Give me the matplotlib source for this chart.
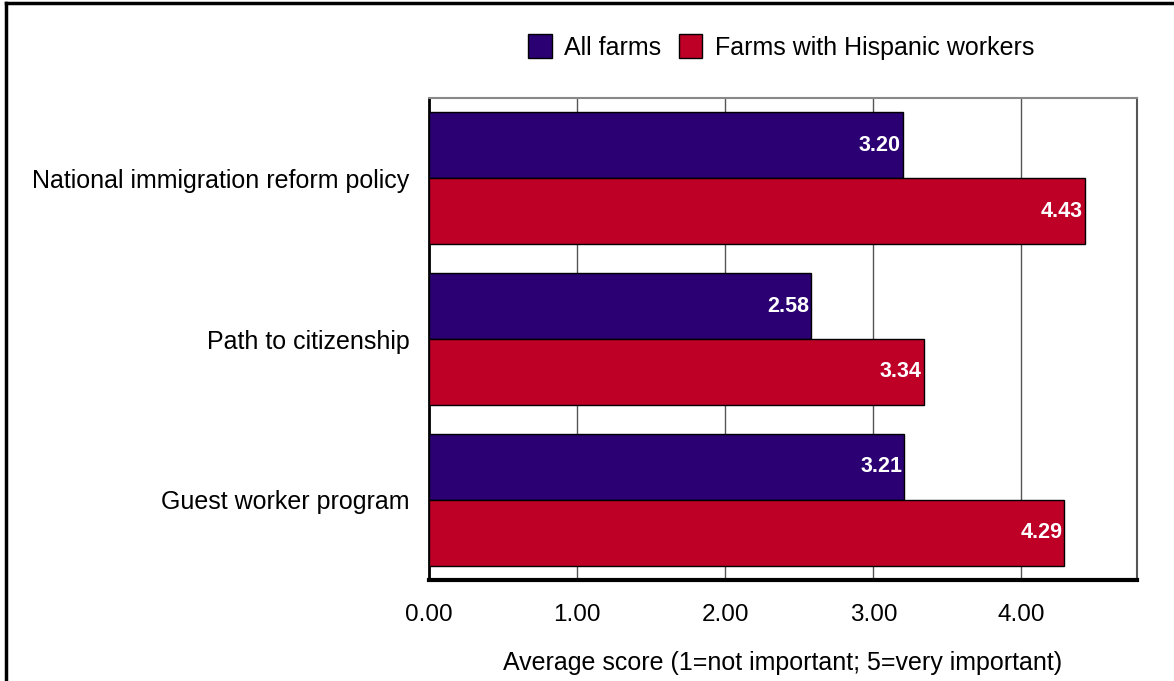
import matplotlib
matplotlib.use("Agg")
import matplotlib.pyplot as plt
from matplotlib.lines import Line2D
import numpy as np

categories = ["National immigration reform policy", "Path to citizenship", "Guest worker program"]
all_farms = [3.20, 2.58, 3.21]
hispanic_farms = [4.43, 3.34, 4.29]
series_names = ["All farms", "Farms with Hispanic workers"]
xticks = [0, 1, 2, 3, 4]
xlabel = "Average score (1=not important; 5=very important)"

plt.rcParams['font.family'] = ['Liberation Sans', 'DejaVu Sans']

fig = plt.figure(figsize=(11.74, 6.81), dpi=100)
ax = fig.add_axes([429/1174, 1-580/681, (1137-429)/1174, (580-98)/681])

y = np.arange(len(categories))
h = 0.41
c1 = "#2A0073"
c2 = "#BE0026"
b1 = ax.barh(y - h/2, all_farms, height=h, color=c1, edgecolor="black", linewidth=1, label=series_names[0], zorder=3)
b2 = ax.barh(y + h/2, hispanic_farms, height=h, color=c2, edgecolor="black", linewidth=1, label=series_names[1], zorder=3)

for bars, vals in ((b1, all_farms), (b2, hispanic_farms)):
    for rect, v in zip(bars, vals):
        ax.text(v - 0.015, rect.get_y() + rect.get_height()/2, f"{v:.2f}", ha="right", va="center",
                color="white", fontsize=15.5, fontweight="bold", zorder=4)

ax.set_xlim(0, 4.78)
ax.set_ylim(2.5, -0.5)
ax.set_xticks(xticks)
ax.set_xticklabels([f"{t:.2f}" for t in xticks], fontsize=17.5)
ax.set_yticks(y)
ax.set_yticklabels(categories, fontsize=18)
ax.tick_params(axis="both", length=0)
ax.tick_params(axis="x", pad=17)
ax.tick_params(axis="y", pad=14)
ax.set_xlabel(xlabel, fontsize=18, labelpad=18)

ax.grid(axis="x", color="#555555", linewidth=1, zorder=1)
ax.spines["left"].set_color("black")
ax.spines["left"].set_linewidth(2)
ax.spines["bottom"].set_color("black")
ax.spines["bottom"].set_linewidth(3)
ax.spines["top"].set_color("#888888")
ax.spines["top"].set_linewidth(1.5)
ax.spines["right"].set_color("#555555")
ax.spines["right"].set_linewidth(1.5)

fig.legend(handles=[b1, b2], labels=series_names, loc="center", bbox_to_anchor=(781/1174, 1-47/681),
           ncol=2, frameon=False, fontsize=18, handlelength=0.95, handleheight=1.05,
           handletextpad=0.5, columnspacing=0.7)

# figure border (left and top visible)
fig.add_artist(Line2D([6/1174, 6/1174], [0, 1-3/681], color="black", linewidth=2.5, transform=fig.transFigure))
fig.add_artist(Line2D([6/1174, 1], [1-3/681, 1-3/681], color="black", linewidth=2.5, transform=fig.transFigure))

fig.savefig("out.png", dpi=100)
